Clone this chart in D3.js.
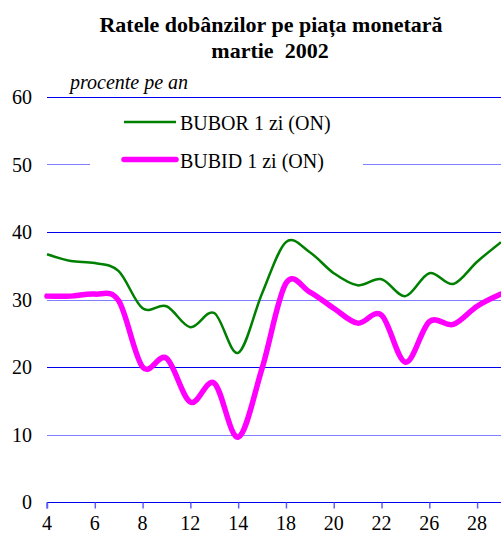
<!DOCTYPE html>
<html>
<head>
<meta charset="utf-8">
<script src="https://cdn.jsdelivr.net/npm/d3@7"></script>
</head>
<body style="margin:0; background:#fff">
<svg id="chart" width="501" height="535"></svg>
<script>
// zilele lucratoare din martie 2002
let days = ["4","5","6","7","8","11","12","13","14","15","18","19","20","21","22","25","26","27","28","29"];
let bubor = [36.7,35.7,35.4,34.2,28.7,29.0,25.9,28.0,22.1,30.9,38.5,37.0,33.9,32.1,33.0,30.5,33.9,32.3,35.6,38.5];
let bubid = [30.5,30.5,30.8,29.8,20.0,21.3,14.8,17.6,9.6,19.8,32.4,31.1,28.7,26.5,27.7,20.7,26.7,26.3,29.0,30.8];
let yTicks = [0,10,20,30,40,50,60];
let xTickLabels = ["4","6","8","12","14","18","20","22","26","28"];
let seriesNames = ["BUBOR 1 zi (ON)", "BUBID 1 zi (ON)"];

let properties = {
    "width": 501,
    "height": 535,
    "margin": {
        "top": 97,
        "bottom": 33,
        "left": 47,
        "right": 0
    },
    "font": "Liberation Serif"
};

let svg = d3.select("#chart");
let width = properties.width - properties.margin.left - properties.margin.right;
let height = properties.height - properties.margin.top - properties.margin.bottom;

let x = d3.scalePoint().domain(days).range([0, width]);
let y = d3.scaleLinear().domain([0, 60]).range([height, 0]);

function label(parent, tx, ty, str, size) {
    return parent.append("text")
        .attr("x", tx)
        .attr("y", ty)
        .attr("font-family", properties.font)
        .attr("font-size", size)
        .attr("fill", "#000")
        .text(str);
}

// titlu
label(svg, 271, 32, "Ratele dobânzilor pe piața monetară", 22)
    .attr("text-anchor", "middle")
    .attr("font-weight", "bold");
label(svg, 270, 58, "martie\u00a0\u00a02002", 22)
    .attr("text-anchor", "middle")
    .attr("font-weight", "bold");

label(svg, 70, 89, "procente pe an", 20)
    .attr("font-style", "italic");

let g = svg.append("g")
    .attr("transform", "translate(" + properties.margin.left + "," + properties.margin.top + ")");

// linii de grila
g.append("g").attr("class", "grid")
    .selectAll("line")
    .data(yTicks.filter(d => d > 0))
    .enter().append("line")
    .attr("x1", 0)
    .attr("x2", width)
    .attr("y1", d => Math.round(y(d)) + 0.5)
    .attr("y2", d => Math.round(y(d)) + 0.5)
    .attr("stroke", d => (d / 10) % 2 === 0 ? "#0000ee" : "#8080ff")
    .attr("stroke-width", 1);

// etichete axa y
yTicks.forEach(function (d) {
    label(g, -15, y(d) + 7, d, 20).attr("text-anchor", "end");
});

// axa x
let xAxis = g.append("g")
    .attr("transform", "translate(0," + (Math.round(height) + 0.5) + ")")
    .call(d3.axisBottom(x).tickValues(xTickLabels).tickSize(6).tickFormat(""));
xAxis.select(".domain").attr("stroke", "#0000ee").attr("d", "M0,6V0H" + width);
xAxis.selectAll(".tick line").attr("stroke", "#6060ff").attr("stroke-width", 1.5);

xTickLabels.forEach(function (d) {
    label(g, x(d), height + 28, d, 20).attr("text-anchor", "middle");
});

let line = d3.line()
    .x((d, i) => x(days[i]))
    .y(d => y(d))
    .curve(d3.curveCardinal.tension(0));

g.append("path")
    .datum(bubor)
    .attr("fill", "none")
    .attr("stroke", "#008000")
    .attr("stroke-width", 2.5)
    .attr("d", line);

g.append("path")
    .datum(bubid)
    .attr("fill", "none")
    .attr("stroke", "#ff00ff")
    .attr("stroke-width", 5.5)
    .attr("stroke-linecap", "round")
    .attr("d", line);

// legenda
let legend = svg.append("g").attr("class", "legend");
legend.append("rect")
    .attr("x", 90)
    .attr("y", 104)
    .attr("width", 273)
    .attr("height", 76)
    .attr("fill", "#fff");
let legendItems = legend.selectAll("g.item")
    .data(seriesNames)
    .enter().append("g")
    .attr("class", "item")
    .attr("transform", (d, i) => "translate(124," + (122 + i * 37.5) + ")");
legendItems.append("line")
    .attr("x1", 0)
    .attr("x2", 52)
    .attr("stroke", (d, i) => i === 0 ? "#008000" : "#ff00ff")
    .attr("stroke-width", (d, i) => i === 0 ? 2.5 : 5.5)
    .attr("stroke-linecap", (d, i) => i === 0 ? "butt" : "round");
legendItems.each(function (d) {
    label(d3.select(this), 56, 8, d, 20);
});
</script>
</body>
</html>
